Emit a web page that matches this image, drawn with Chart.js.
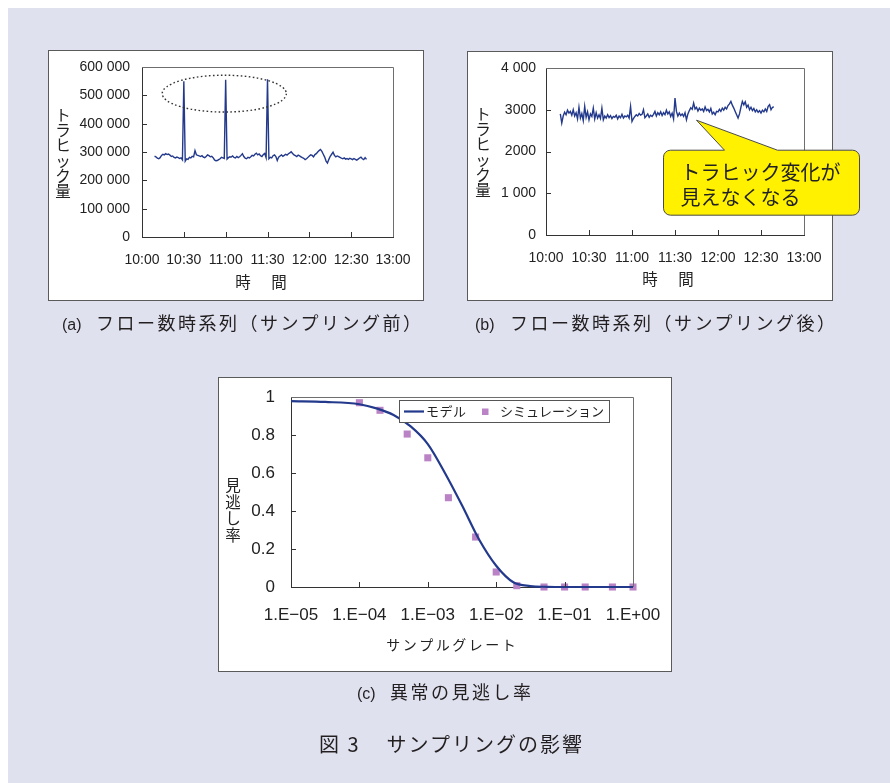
<!DOCTYPE html>
<html lang="ja">
<head>
<meta charset="utf-8">
<script src="https://cdn.jsdelivr.net/npm/chart.js@4.4.1/dist/chart.umd.min.js"></script>
<style>
html,body{margin:0;padding:0;background:#fff;}
#page{position:relative;width:890px;height:783px;overflow:hidden;background:#fff;}
#bg{position:absolute;left:8px;top:8px;width:882px;height:775px;background:#dfe1ef;}
.panel{position:absolute;background:#fff;border:1px solid #5a5a5a;box-sizing:border-box;}
canvas{position:absolute;left:0;top:0;}
.cap{position:absolute;font-family:"Noto Sans CJK JP";color:#231f20;white-space:nowrap;line-height:1;font-size:18px;letter-spacing:2.5px;}
.lab{display:inline-block;font-family:"Liberation Sans";font-size:16px;letter-spacing:0;}
</style>
</head>
<body>
<div id="page">
  <div id="bg"></div>
  <div class="panel" style="left:48px;top:50px;width:376px;height:251px;"></div>
  <div class="panel" style="left:467px;top:51px;width:366px;height:250px;"></div>
  <div class="panel" style="left:218px;top:377px;width:454px;height:295px;"></div>
  <canvas id="chartA" width="890" height="783"></canvas>
  <canvas id="chartB" width="890" height="783"></canvas>
  <canvas id="chartC" width="890" height="783"></canvas>
  <div class="cap" style="left:62px;top:313px;"><span class="lab" style="width:34px;">(a)</span>フロー数時系列（サンプリング前）</div>
  <div class="cap" style="left:475px;top:313px;"><span class="lab" style="width:35px;">(b)</span>フロー数時系列（サンプリング後）</div>
  <div class="cap" style="left:357px;top:682px;"><span class="lab" style="width:33px;">(c)</span>異常の見逃し率</div>
  <div class="cap" style="left:319px;top:734px;font-size:20px;letter-spacing:2px;">図 3<span style="margin-left:26px;">サンプリングの影響</span></div>
</div>
<script>
// ---------- data ----------
const timeTickMinutes = [0, 30, 60, 90, 120, 150, 180];
const timeTickLabels = ['10:00', '10:30', '11:00', '11:30', '12:00', '12:30', '13:00'];

// (a) flows per minute before sampling, starting 10:09
const startMinuteBefore = 9;
const flowsBefore = [
  285000,283000,278000,276000,280000,288000,292000,290000,294000,291000,
  293000,289000,284000,286000,281000,279000,282000,280000,277000,279000,
  272000,550000,268000,276000,274000,281000,279000,285000,283000,305000,
  290000,288000,286000,284000,287000,282000,280000,284000,290000,287000,
  283000,285000,280000,272000,269000,270000,273000,276000,281000,279000,
  277000,555000,275000,280000,283000,282000,286000,281000,279000,284000,
  280000,283000,288000,294000,284000,278000,276000,281000,279000,283000,
  288000,286000,292000,296000,290000,293000,287000,284000,291000,295000,
  280000,557000,276000,281000,279000,287000,290000,284000,270000,282000,
  286000,290000,285000,288000,292000,289000,294000,297000,301000,295000,
  290000,287000,284000,289000,286000,283000,280000,278000,273000,276000,
  281000,286000,290000,288000,283000,291000,294000,300000,305000,309000,
  302000,292000,282000,268000,261000,274000,285000,292000,299000,288000,
  283000,286000,284000,281000,278000,276000,279000,275000,277000,274000,
  278000,276000,273000,277000,274000,271000,275000,279000,282000,276000,
  273000,280000,274000
];
const flowTicksBefore = [0, 100000, 200000, 300000, 400000, 500000, 600000];
const flowTickLabelsBefore = ['0', '100 000', '200 000', '300 000', '400 000', '500 000', '600 000'];

// (b) flows per minute after sampling, starting 10:10
const startMinuteAfter = 10;
const flowsAfter = [
  2900,2680,2850,2940,2880,2990,2920,2960,2870,3000,
  2850,2930,2780,3060,2800,2910,2740,3080,2820,2950,
  2760,2900,2840,3040,2780,2930,2800,2880,2790,3040,
  2760,2850,2800,2880,2810,2860,2790,2840,2820,2870,
  2780,2850,2810,2890,2800,2850,2830,2870,2800,3080,
  2720,2790,2840,2880,2850,2910,2870,2890,3000,2810,
  2850,2900,2820,2870,2840,2890,2960,2850,2930,2880,
  2950,2860,2930,2880,2990,2900,2950,2840,2920,2780,
  3280,2960,2850,2920,2860,2900,2840,2930,2760,2900,
  2980,3050,3010,3160,3020,3060,2970,3040,2990,3020,
  2960,3070,2980,3010,2950,3030,2900,2940,2880,2960,
  2950,3010,2960,3040,2990,3060,3020,3100,3140,3200,
  3110,3040,2960,2880,2800,2900,3060,3200,3120,3190,
  3060,3110,3000,3060,2980,3030,2950,3000,2940,2980,
  2920,2990,2950,3020,2960,3080,3120,3000,3060,3070
];
const flowTicksAfter = [0, 1000, 2000, 3000, 4000];
const flowTickLabelsAfter = ['0', '1 000', '2000', '3000', '4 000'];

// (c) miss rate vs sampling rate
const rateTickValues = [1e-5, 1e-4, 1e-3, 1e-2, 1e-1, 1];
const rateTickLabels = ['1.E\u221205', '1.E\u221204', '1.E\u221203', '1.E\u221202', '1.E\u221201', '1.E+00'];
const missTickValues = [0, 0.2, 0.4, 0.6, 0.8, 1];
const missTickLabels = ['0', '0.2', '0.4', '0.6', '0.8', '1'];
const modelRate = [1e-5, 3.16e-5, 1e-4, 1.78e-4, 3.16e-4, 5.62e-4, 1e-3, 1.78e-3, 3.16e-3, 5.62e-3, 1e-2, 1.78e-2, 3.16e-2, 5.62e-2, 1e-1, 1];
const modelMiss = [0.978, 0.974, 0.962, 0.94, 0.905, 0.845, 0.752, 0.6, 0.43, 0.25, 0.112, 0.025, 0.005, 0.001, 0, 0];
const simRate = [1e-4, 2e-4, 5e-4, 1e-3, 2e-3, 5e-3, 1e-2, 2e-2, 5e-2, 1e-1, 2e-1, 5e-1, 1];
const simMiss = [0.97, 0.93, 0.805, 0.68, 0.47, 0.263, 0.079, 0.007, 0, 0, 0, 0, 0];

// annotations
const spikeEllipse = { centerMinute: 59, centerFlows: 506000, radiusMinutes: 44.5, radiusFlows: 65000 };
const calloutNote = { anchorMinute: 105, anchorFlows: 2750, lines: ['トラヒック変化が', '見えなくなる'] };

// ---------- styles ----------
const LINE_BLUE = '#23398c';
const SIM_PURPLE = '#b983c6';
const TEXT = '#222222';
const JP = '"Noto Sans CJK JP", sans-serif';
Chart.defaults.font.family = '"Liberation Sans", Arial, sans-serif';
Chart.defaults.color = TEXT;

function framePlugin(tickLen) {
  return {
    id: 'plotFrame',
    afterDraw(chart) {
      const { ctx, chartArea: a, scales: { x, y } } = chart;
      ctx.save();
      ctx.strokeStyle = '#6e6e6e';
      ctx.lineWidth = 1;
      ctx.beginPath();
      ctx.moveTo(a.left, a.top + 0.5);
      ctx.lineTo(a.right + 0.5, a.top + 0.5);
      ctx.lineTo(a.right + 0.5, a.bottom);
      ctx.stroke();
      ctx.strokeStyle = '#333';
      ctx.beginPath();
      x.ticks.forEach((t, i) => {
        if (i === 0 || i === x.ticks.length - 1) return;
        const px = Math.round(x.getPixelForValue(t.value)) + 0.5;
        ctx.moveTo(px, a.bottom);
        ctx.lineTo(px, a.bottom - tickLen);
      });
      y.ticks.forEach((t, i) => {
        if (i === 0 || i === y.ticks.length - 1) return;
        const py = Math.round(y.getPixelForValue(t.value)) + 0.5;
        ctx.moveTo(a.left, py);
        ctx.lineTo(a.left + tickLen, py);
      });
      ctx.stroke();
      ctx.restore();
    }
  };
}

function textPlugin(items) {
  return {
    id: 'axisText',
    afterDraw(chart) {
      const ctx = chart.ctx;
      items.forEach(it => {
        ctx.save();
        ctx.font = it.size + 'px ' + JP;
        ctx.fillStyle = TEXT;
        ctx.textAlign = 'center';
        ctx.textBaseline = 'middle';
        if (it.vertical) {
          Array.from(it.text).forEach((ch, i) => ctx.fillText(ch, it.x, it.y + i * it.step));
        } else {
          ctx.letterSpacing = (it.spacing || 0) + 'px';
          ctx.fillText(it.text, it.x + (it.spacing || 0) / 2, it.y);
        }
        ctx.restore();
      });
    }
  };
}

function layoutFor(area) {
  return {
    padding: { left: 0, top: area.top, right: 890 - area.right, bottom: 0 },
    fitX: s => { s.height = 783 - area.bottom; },
    fitY: s => { s.width = area.left; }
  };
}

function axisX(cfg) {
  return Object.assign({
    grid: { display: false, drawTicks: false },
    border: { display: true, color: '#333', width: 1 },
    ticks: { autoSkip: false, maxRotation: 0, minRotation: 0 }
  }, cfg);
}

// ---------- chart (a) ----------
const areaA = { left: 142, top: 67, right: 393, bottom: 237 };
const layA = layoutFor(areaA);
const ellipsePlugin = {
  id: 'spikeEllipse',
  afterDatasetsDraw(chart) {
    const { ctx, scales: { x, y } } = chart;
    const cx = x.getPixelForValue(spikeEllipse.centerMinute);
    const cy = y.getPixelForValue(spikeEllipse.centerFlows);
    const rx = x.getPixelForValue(spikeEllipse.centerMinute + spikeEllipse.radiusMinutes) - cx;
    const ry = cy - y.getPixelForValue(spikeEllipse.centerFlows + spikeEllipse.radiusFlows);
    ctx.save();
    ctx.strokeStyle = '#333';
    ctx.lineWidth = 1.4;
    ctx.setLineDash([1.6, 2.4]);
    ctx.beginPath();
    ctx.ellipse(cx, cy, rx, ry, 0, 0, Math.PI * 2);
    ctx.stroke();
    ctx.restore();
  }
};
new Chart(document.getElementById('chartA'), {
  type: 'line',
  data: {
    datasets: [{
      label: 'フロー数',
      data: flowsBefore.map((v, i) => ({ x: startMinuteBefore + i, y: v })),
      borderColor: LINE_BLUE, borderWidth: 1.4, pointRadius: 0, tension: 0
    }]
  },
  options: {
    responsive: false, animation: false, devicePixelRatio: 1,
    layout: { padding: layA.padding },
    plugins: { legend: { display: false }, tooltip: { enabled: false } },
    scales: {
      x: axisX({
        type: 'linear', min: 0, max: 180,
        afterBuildTicks: s => { s.ticks = timeTickMinutes.map(v => ({ value: v })); },
        afterFit: layA.fitX,
        ticks: { autoSkip: false, maxRotation: 0, minRotation: 0, padding: 14.5, font: { size: 14 }, callback: (v, i) => timeTickLabels[i] }
      }),
      y: axisX({
        min: 0, max: 600000,
        afterBuildTicks: s => { s.ticks = flowTicksBefore.map(v => ({ value: v })); },
        afterFit: layA.fitY,
        ticks: { autoSkip: false, padding: 12, font: { size: 14 }, callback: (v, i) => flowTickLabelsBefore[i] }
      })
    }
  },
  plugins: [framePlugin(5), ellipsePlugin, textPlugin([
    { text: 'トラヒック量', vertical: true, x: 63, y: 115, step: 15.3, size: 15.5 },
    { text: '時　間', x: 261, y: 282, size: 15.5, spacing: 2.5 }
  ])]
});

// ---------- chart (b) ----------
const areaB = { left: 546, top: 68, right: 804, bottom: 235 };
const layB = layoutFor(areaB);
const calloutPlugin = {
  id: 'callout',
  afterDraw(chart) {
    const { ctx, scales: { x, y } } = chart;
    const tx = x.getPixelForValue(calloutNote.anchorMinute);
    const ty = y.getPixelForValue(calloutNote.anchorFlows);
    const L = tx - 33, T = ty + 30, W = 196, H = 65, R = 7;
    const b1 = tx + 28, b2 = tx + 81;
    ctx.save();
    ctx.beginPath();
    ctx.moveTo(L + R, T);
    ctx.lineTo(b1, T);
    ctx.lineTo(tx, ty);
    ctx.lineTo(b2, T);
    ctx.lineTo(L + W - R, T);
    ctx.arcTo(L + W, T, L + W, T + R, R);
    ctx.lineTo(L + W, T + H - R);
    ctx.arcTo(L + W, T + H, L + W - R, T + H, R);
    ctx.lineTo(L + R, T + H);
    ctx.arcTo(L, T + H, L, T + H - R, R);
    ctx.lineTo(L, T + R);
    ctx.arcTo(L, T, L + R, T, R);
    ctx.closePath();
    ctx.fillStyle = '#fff100';
    ctx.fill();
    ctx.strokeStyle = '#4a4a4a';
    ctx.lineWidth = 1;
    ctx.stroke();
    ctx.fillStyle = TEXT;
    ctx.font = '20px ' + JP;
    ctx.textAlign = 'left';
    ctx.textBaseline = 'middle';
    ctx.fillText(calloutNote.lines[0], L + 17, T + 22);
    ctx.fillText(calloutNote.lines[1], L + 17, T + 47);
    ctx.restore();
  }
};
new Chart(document.getElementById('chartB'), {
  type: 'line',
  data: {
    datasets: [{
      label: 'フロー数',
      data: flowsAfter.map((v, i) => ({ x: startMinuteAfter + i, y: v })),
      borderColor: LINE_BLUE, borderWidth: 1.4, pointRadius: 0, tension: 0
    }]
  },
  options: {
    responsive: false, animation: false, devicePixelRatio: 1,
    layout: { padding: layB.padding },
    plugins: { legend: { display: false }, tooltip: { enabled: false } },
    scales: {
      x: axisX({
        type: 'linear', min: 0, max: 180,
        afterBuildTicks: s => { s.ticks = timeTickMinutes.map(v => ({ value: v })); },
        afterFit: layB.fitX,
        ticks: { autoSkip: false, maxRotation: 0, minRotation: 0, padding: 14.5, font: { size: 14 }, callback: (v, i) => timeTickLabels[i] }
      }),
      y: axisX({
        min: 0, max: 4000,
        afterBuildTicks: s => { s.ticks = flowTicksAfter.map(v => ({ value: v })); },
        afterFit: layB.fitY,
        ticks: { autoSkip: false, padding: 10, font: { size: 14 }, callback: (v, i) => flowTickLabelsAfter[i] }
      })
    }
  },
  plugins: [framePlugin(5), calloutPlugin, textPlugin([
    { text: 'トラヒック量', vertical: true, x: 483, y: 114, step: 15.3, size: 15.5 },
    { text: '時　間', x: 668, y: 279.5, size: 15.5, spacing: 2.5 }
  ])]
});

// ---------- chart (c) ----------
const areaC = { left: 291, top: 397, right: 633, bottom: 587 };
const layC = layoutFor(areaC);
const legendBox = { x: 399, y: 400, w: 211, h: 23 };
const legendPlugin = {
  id: 'missLegend',
  afterDraw(chart) {
    const ctx = chart.ctx;
    const ds = chart.data.datasets;
    const b = legendBox;
    const cy = b.y + b.h / 2;
    ctx.save();
    ctx.fillStyle = '#fff';
    ctx.fillRect(b.x, b.y, b.w, b.h);
    ctx.strokeStyle = '#555';
    ctx.lineWidth = 1;
    ctx.strokeRect(b.x + 0.5, b.y + 0.5, b.w - 1, b.h - 1);
    ctx.strokeStyle = ds[0].borderColor;
    ctx.lineWidth = ds[0].borderWidth;
    ctx.beginPath();
    ctx.moveTo(b.x + 5, cy);
    ctx.lineTo(b.x + 25, cy);
    ctx.stroke();
    ctx.font = '13px ' + JP;
    ctx.fillStyle = TEXT;
    ctx.textBaseline = 'middle';
    ctx.textAlign = 'left';
    ctx.letterSpacing = '0.5px';
    ctx.fillText(ds[0].label, b.x + 27, cy);
    ctx.fillStyle = ds[1].backgroundColor;
    ctx.fillRect(b.x + 83, cy - 3, 6.5, 6.5);
    ctx.fillStyle = TEXT;
    ctx.letterSpacing = '0px';
    ctx.fillText(ds[1].label, b.x + 101, cy);
    ctx.restore();
  }
};
new Chart(document.getElementById('chartC'), {
  type: 'line',
  data: {
    datasets: [{
      label: 'モデル',
      data: modelRate.map((r, i) => ({ x: r, y: modelMiss[i] })),
      borderColor: LINE_BLUE, borderWidth: 2.2, pointRadius: 0,
      cubicInterpolationMode: 'monotone', clip: false
    }, {
      label: 'シミュレーション',
      data: simRate.map((r, i) => ({ x: r, y: simMiss[i] })),
      showLine: false, pointStyle: 'rect', pointRadius: 5, pointBorderWidth: 0,
      backgroundColor: SIM_PURPLE, borderColor: SIM_PURPLE, clip: false
    }]
  },
  options: {
    responsive: false, animation: false, devicePixelRatio: 1,
    layout: { padding: layC.padding },
    plugins: { legend: { display: false }, tooltip: { enabled: false } },
    scales: {
      x: axisX({
        type: 'logarithmic', min: 1e-5, max: 1,
        afterBuildTicks: s => { s.ticks = rateTickValues.map(v => ({ value: v })); },
        afterFit: layC.fitX,
        ticks: { autoSkip: false, maxRotation: 0, minRotation: 0, padding: 18, font: { size: 17 }, callback: (v, i) => rateTickLabels[i] }
      }),
      y: axisX({
        min: 0, max: 1,
        afterBuildTicks: s => { s.ticks = missTickValues.map(v => ({ value: v })); },
        afterFit: layC.fitY,
        ticks: { autoSkip: false, padding: 16, font: { size: 17 }, callback: (v, i) => missTickLabels[i] }
      })
    }
  },
  plugins: [framePlugin(5), legendPlugin, textPlugin([
    { text: '見逃し率', vertical: true, x: 233, y: 485.5, step: 16.5, size: 15.5 },
    { text: 'サンプルグレート', x: 451, y: 645, size: 14, spacing: 2.5 }
  ])]
});
</script>
</body>
</html>
